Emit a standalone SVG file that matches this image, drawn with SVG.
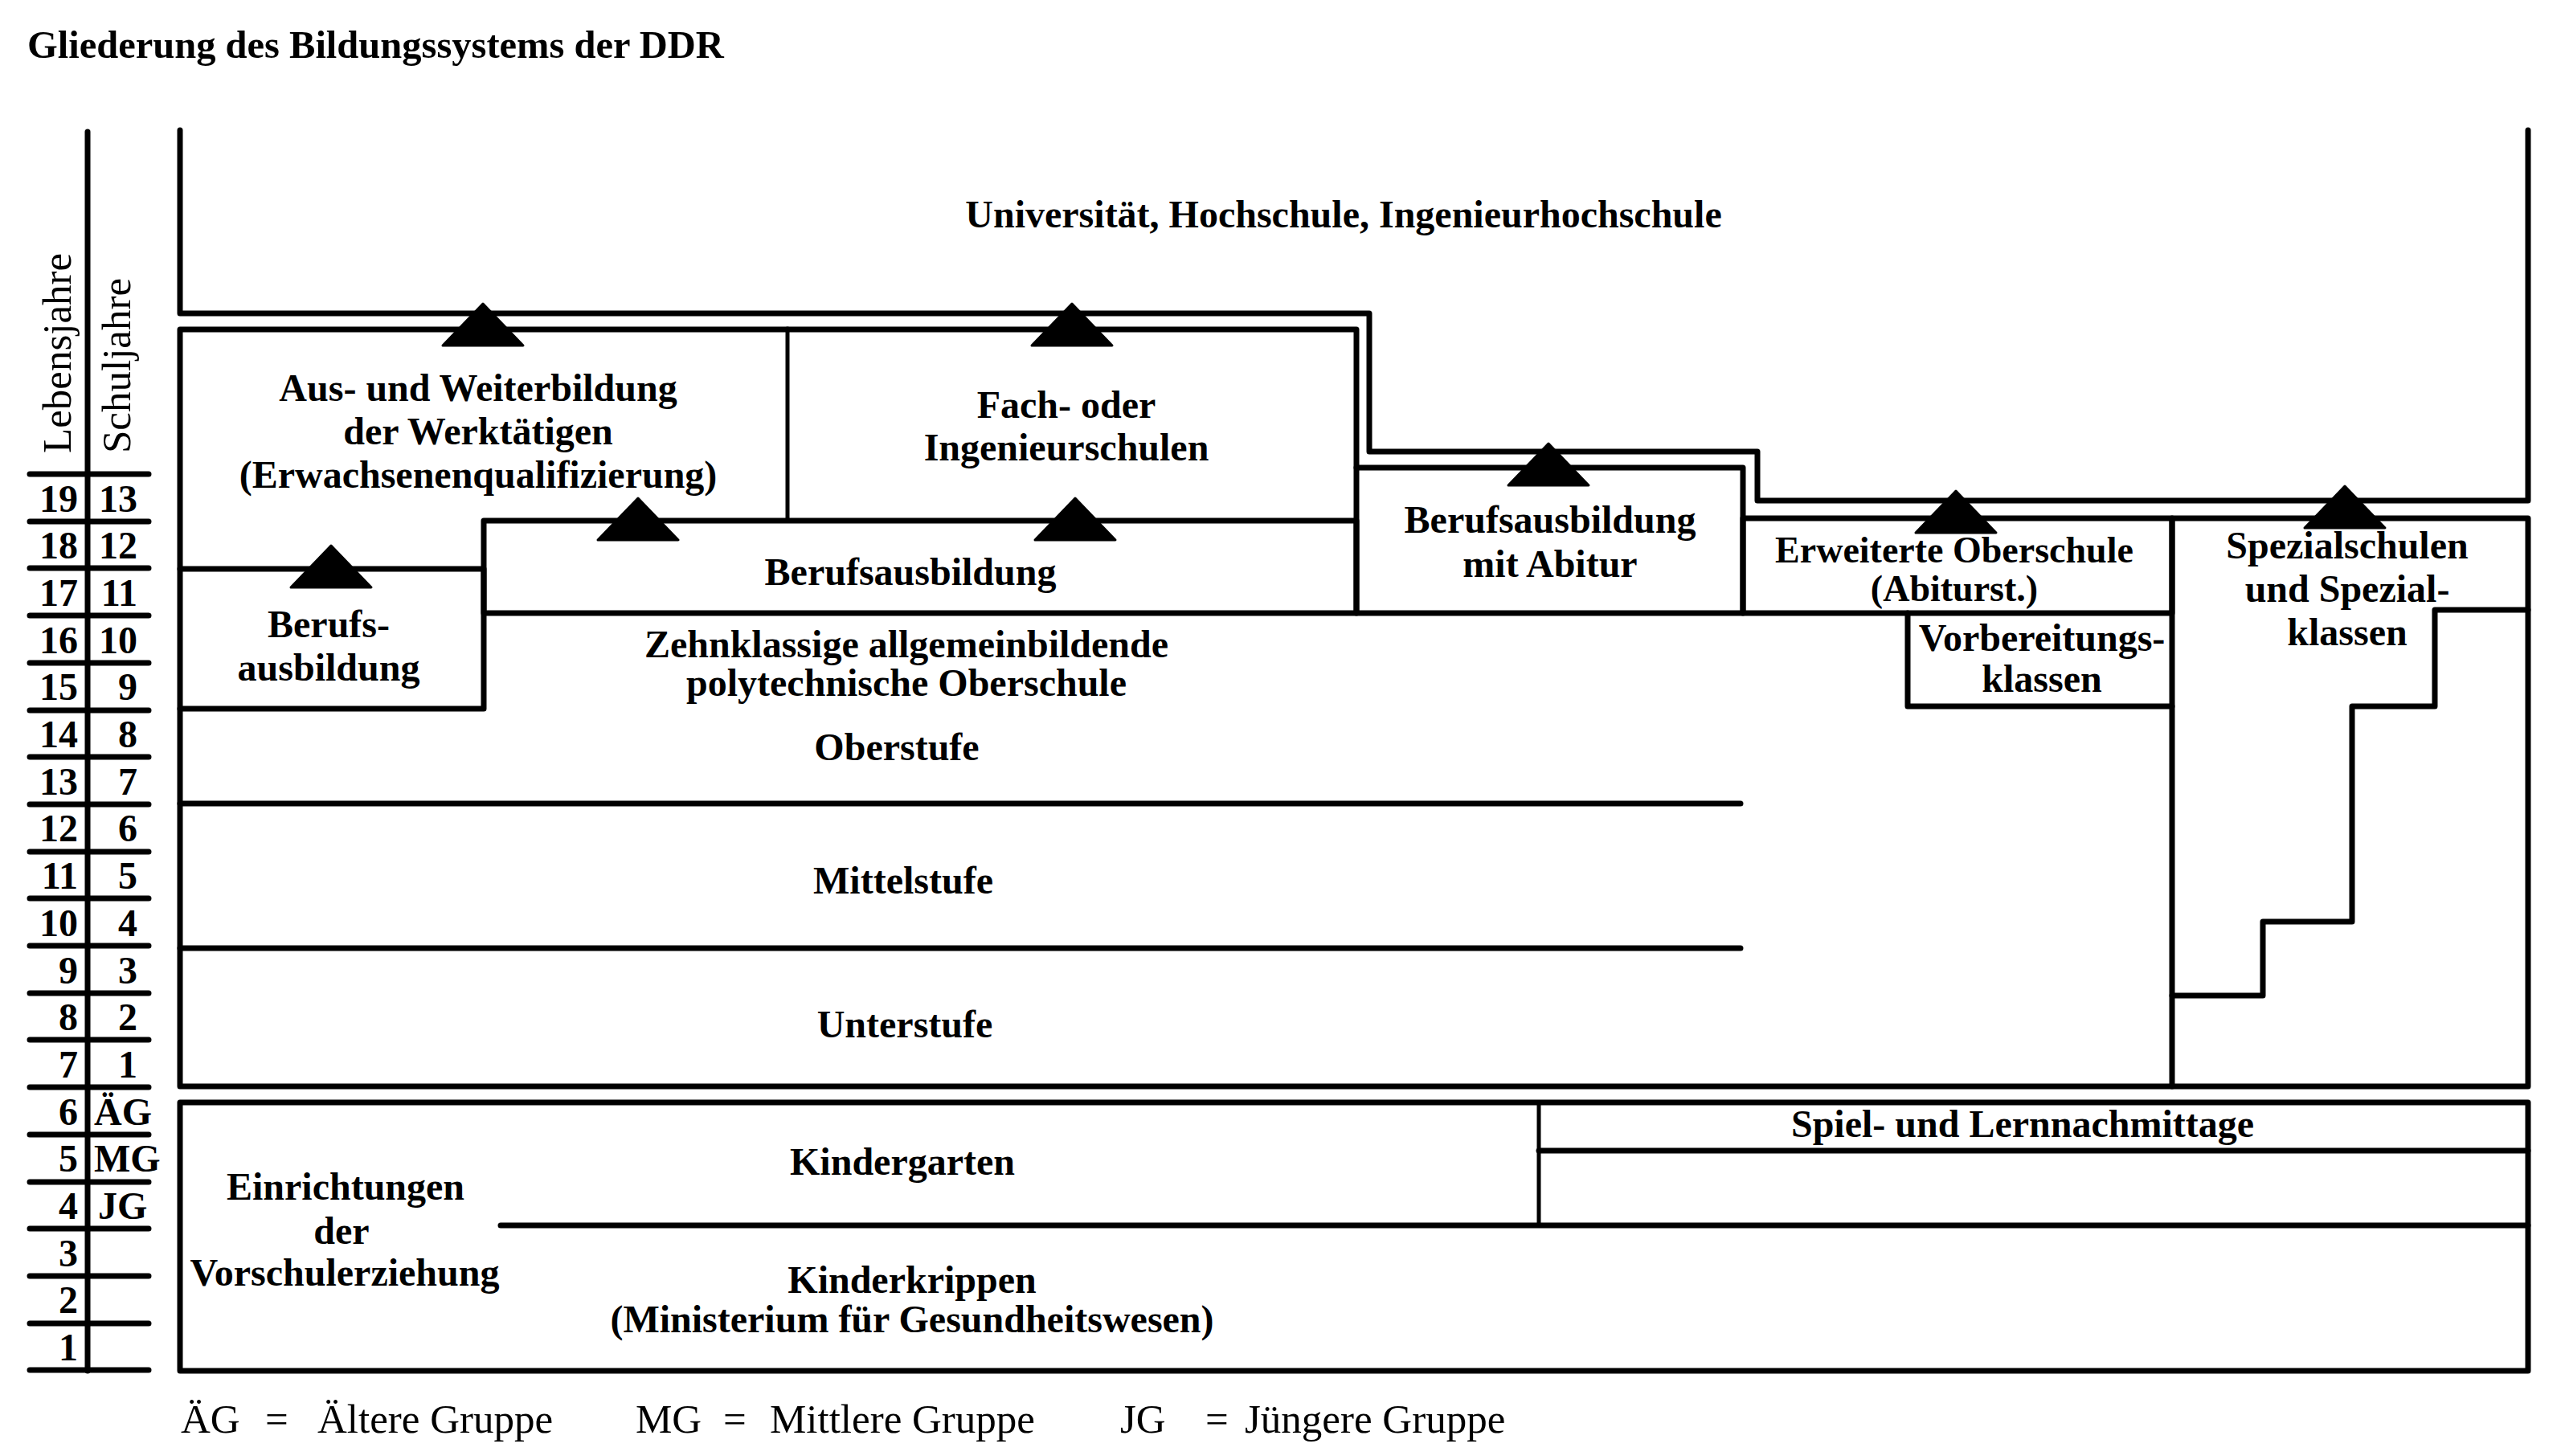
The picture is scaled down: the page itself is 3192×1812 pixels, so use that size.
<svg xmlns="http://www.w3.org/2000/svg" width="3192" height="1812" viewBox="0 0 3192 1812">
<style>
.ln{fill:none;stroke:#000;stroke-width:7;stroke-linecap:round;stroke-linejoin:round}
.th{stroke-width:5}
.t{font-family:"Liberation Serif","Times New Roman",serif;font-weight:bold;font-size:48px;text-anchor:middle;fill:#000}
.ne{text-anchor:end}
.st{text-anchor:start}
.lg{font-weight:normal;font-size:51px;text-anchor:start}
.vt{font-weight:normal;font-size:51px;text-anchor:start}
.sm{font-size:46px}
.tri{fill:#000;stroke:#000;stroke-width:3;stroke-linejoin:round}
</style>
<defs>
<path id="tri" d="M0,0 L50,52 L-50,52 Z"/>
</defs>
<rect width="3192" height="1812" fill="#fff"/>

<g id="title">
<text class="t st" x="34" y="72" style="font-size:48.5px">Gliederung des Bildungssystems der DDR</text>
</g>

<g id="scale">
<path class="ln" d="M109,164 V1706"/>
<path class="ln" d="M37,590 H185 M37,649 H185 M37,707 H185 M37,766 H185 M37,825 H185 M37,884 H185 M37,942 H185 M37,1001 H185 M37,1060 H185 M37,1118 H185 M37,1177 H185 M37,1236 H185 M37,1294 H185 M37,1353 H185 M37,1412 H185 M37,1471 H185 M37,1529 H185 M37,1588 H185 M37,1647 H185 M37,1705 H185"/>
<text class="t vt" transform="translate(88,564) rotate(-90)">Lebensjahre</text>
<text class="t vt" transform="translate(162,564) rotate(-90)">Schuljahre</text>
<g class="t ne">
<text x="97" y="637">19</text><text x="171" y="637">13</text>
<text x="97" y="695">18</text><text x="171" y="695">12</text>
<text x="97" y="754">17</text><text x="171" y="754">11</text>
<text x="97" y="813">16</text><text x="171" y="813">10</text>
<text x="97" y="871">15</text><text x="171" y="871">9</text>
<text x="97" y="930">14</text><text x="171" y="930">8</text>
<text x="97" y="989">13</text><text x="171" y="989">7</text>
<text x="97" y="1047">12</text><text x="171" y="1047">6</text>
<text x="97" y="1106">11</text><text x="171" y="1106">5</text>
<text x="97" y="1165">10</text><text x="171" y="1165">4</text>
<text x="97" y="1224">9</text><text x="171" y="1224">3</text>
<text x="97" y="1282">8</text><text x="171" y="1282">2</text>
<text x="97" y="1341">7</text><text x="171" y="1341">1</text>
<text x="97" y="1400">6</text>
<text x="97" y="1458">5</text>
<text x="97" y="1517">4</text>
<text x="97" y="1576">3</text>
<text x="97" y="1634">2</text>
<text x="97" y="1693">1</text>
</g>
<g class="t st">
<text x="117" y="1400">ÄG</text>
<text x="117" y="1458">MG</text>
<text x="122" y="1517">JG</text>
</g>
</g>

<g id="universitaet">
<path class="ln" d="M224,162 V390 H1704 V562 H2187 V623 H3146 V162"/>
<text class="t" x="1672" y="283">Universität, Hochschule, Ingenieurhochschule</text>
</g>

<g id="aus-weiterbildung">
<path class="ln" d="M980,410 H224 V708"/>
<text class="t" x="595" y="499">Aus- und Weiterbildung</text>
<text class="t" x="595" y="553">der Werktätigen</text>
<text class="t" x="595" y="607">(Erwachsenenqualifizierung)</text>
</g>

<g id="fachschulen">
<path class="ln" d="M980,410 H1688 V582"/>
<path class="ln th" d="M980,410 V648"/>
<text class="t" x="1327" y="520">Fach- oder</text>
<text class="t" x="1327" y="573">Ingenieurschulen</text>
</g>

<g id="berufsausbildung">
<path class="ln" d="M602,648 H1688 V763 H602 Z"/>
<text class="t" x="1133" y="728">Berufsausbildung</text>
</g>

<g id="berufsausbildung-klein">
<path class="ln" d="M224,708 H602 V882 H224 Z"/>
<text class="t" x="409" y="793">Berufs-</text>
<text class="t" x="409" y="847">ausbildung</text>
</g>

<g id="berufsausbildung-abitur">
<path class="ln" d="M1688,582 H2169 V763 H1688 Z"/>
<text class="t" x="1929" y="663">Berufsausbildung</text>
<text class="t" x="1929" y="718">mit Abitur</text>
</g>

<g id="erweiterte-oberschule">
<path class="ln" d="M2169,645 H2703 V763 H2169 Z"/>
<text class="t sm" x="2432" y="700">Erweiterte Oberschule</text>
<text class="t sm" x="2432" y="748">(Abiturst.)</text>
</g>

<g id="vorbereitungsklassen">
<path class="ln" d="M2374,763 V879 H2703"/>
<text class="t" x="2541" y="810">Vorbereitungs-</text>
<text class="t" x="2541" y="861">klassen</text>
</g>

<g id="spezialschulen">
<path class="ln" d="M2703,645 H3146 V1352 H2703 Z"/>
<path class="ln" d="M3146,759 H3030 V879 H2927 V1147 H2816 V1239 H2703"/>
<text class="t" x="2921" y="695">Spezialschulen</text>
<text class="t" x="2921" y="749">und Spezial-</text>
<text class="t" x="2921" y="803">klassen</text>
</g>

<g id="oberschule">
<path class="ln" d="M224,882 V1352 H2703"/>
<path class="ln" d="M224,1000 H2166 M224,1180 H2166"/>
<text class="t" x="1128" y="818">Zehnklassige allgemeinbildende</text>
<text class="t" x="1128" y="866">polytechnische Oberschule</text>
<text class="t" x="1116" y="946">Oberstufe</text>
<text class="t" x="1124" y="1112">Mittelstufe</text>
<text class="t" x="1126" y="1291">Unterstufe</text>
</g>

<g id="vorschulerziehung">
<path class="ln" d="M224,1372 H3146 V1706 H224 Z"/>
<text class="t" x="430" y="1493">Einrichtungen</text>
<text class="t" x="425" y="1548">der</text>
<text class="t" x="429" y="1600">Vorschulerziehung</text>
</g>

<g id="kindergarten">
<path class="ln th" d="M1915,1372 V1525"/>
<path class="ln" d="M623,1525 H3146"/>
<text class="t" x="1123" y="1462">Kindergarten</text>
</g>

<g id="spiel-lernnachmittage">
<path class="ln" d="M1915,1432 H3146"/>
<text class="t" x="2517" y="1415">Spiel- und Lernnachmittage</text>
</g>

<g id="kinderkrippen">
<text class="t" x="1135" y="1609">Kinderkrippen</text>
<text class="t" x="1135" y="1658">(Ministerium für Gesundheitswesen)</text>
</g>

<g id="connectors">
<use href="#tri" class="tri" x="601" y="378"/>
<use href="#tri" class="tri" x="1334" y="378"/>
<use href="#tri" class="tri" x="412" y="679"/>
<use href="#tri" class="tri" x="794" y="620"/>
<use href="#tri" class="tri" x="1338" y="620"/>
<use href="#tri" class="tri" x="1927" y="552"/>
<use href="#tri" class="tri" x="2434" y="611"/>
<use href="#tri" class="tri" x="2918" y="605"/>
</g>

<g id="legend" class="t lg">
<text y="1783"><tspan x="225">ÄG</tspan><tspan x="330">=</tspan><tspan x="395">Ältere Gruppe</tspan></text>
<text y="1783"><tspan x="791">MG</tspan><tspan x="900">=</tspan><tspan x="958">Mittlere Gruppe</tspan></text>
<text y="1783"><tspan x="1394">JG</tspan><tspan x="1500">=</tspan><tspan x="1549">Jüngere Gruppe</tspan></text>
</g>
</svg>
